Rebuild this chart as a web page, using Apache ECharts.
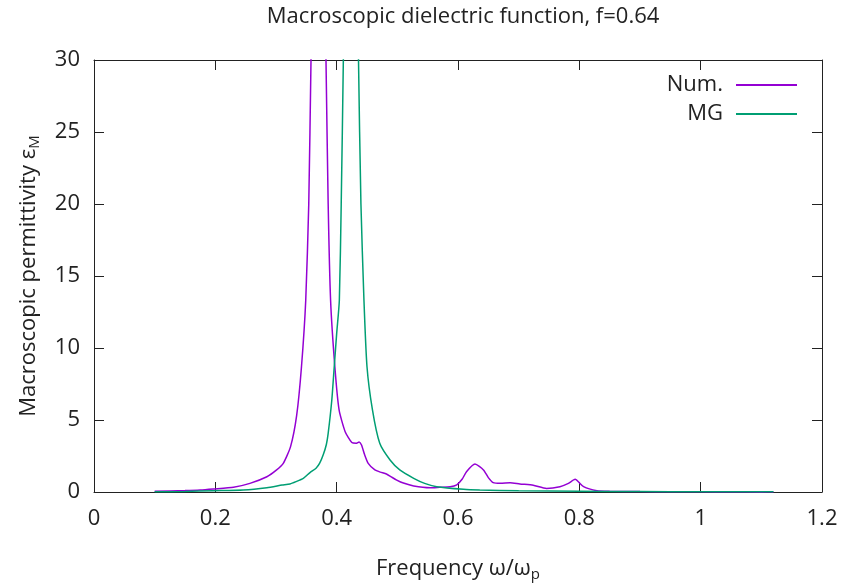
<!DOCTYPE html>
<html>
<head>
<meta charset="utf-8">
<script src="https://cdn.jsdelivr.net/npm/echarts@6/dist/echarts.min.js"></script>
<style>html,body{margin:0;padding:0;background:#fff}#c{width:842px;height:584px}</style>
</head>
<body>
<div id="c"></div>
<script>
// Numerical result (x = ω/ωp, y = εM)
const numX = [0.10,0.15,0.175,0.197,0.23,0.257,0.285,0.30,0.312,0.324,0.334,0.342,0.349,0.354,0.3577,0.363,0.370,0.377,0.3824,0.386,0.390,0.397,0.404,0.414,0.425,0.432,0.437,0.441,0.446,0.452,0.463,0.472,0.482,0.490,0.499,0.510,0.527,0.554,0.570,0.587,0.598,0.607,0.614,0.628,0.642,0.650,0.658,0.670,0.686,0.702,0.724,0.746,0.768,0.782,0.793,0.807,0.829,0.85,0.90,0.95,1.00,1.05,1.10,1.12];
const numY = [0.05,0.10,0.14,0.21,0.33,0.60,1.06,1.5,1.99,3.15,5.3,8.7,13.3,20,30,45,60,45,30,20,13.3,8.7,5.7,4.19,3.43,3.38,3.48,3.26,2.6,1.99,1.53,1.38,1.25,1.05,0.83,0.62,0.42,0.30,0.33,0.36,0.5,0.9,1.41,1.94,1.53,1.0,0.65,0.6,0.65,0.56,0.47,0.25,0.37,0.6,0.88,0.37,0.09,0.05,0.03,0.02,0.01,0.0,-0.01,0.0];
// Maxwell-Garnett
const mgX = [0.10,0.15,0.197,0.246,0.285,0.310,0.323,0.333,0.345,0.356,0.366,0.372,0.378,0.383,0.386,0.392,0.396,0.400,0.4044,0.4075,0.411,0.416,0.4235,0.431,0.436,0.440,0.445,0.450,0.459,0.471,0.488,0.504,0.527,0.545,0.565,0.609,0.636,0.70,0.80,0.90,1.00,1.12];
const mgY = [0.01,0.04,0.09,0.14,0.30,0.48,0.56,0.72,0.95,1.35,1.65,2.0,2.6,3.3,4.07,6.39,8.7,11.0,13.3,20,30,50,80,50,30,20,13.3,8.7,5.7,3.38,2.22,1.53,0.95,0.6,0.37,0.19,0.14,0.08,0.05,0.03,0.02,0.01];
const xTicks = [0,0.2,0.4,0.6,0.8,1,1.2];
const yTicks = [0,5,10,15,20,25,30];

const FONT = 'Open Sans';
const FS = 22;
const zip = (a,b)=>a.map((v,i)=>[v,b[i]]);
const chart = echarts.init(document.getElementById('c'), null, {renderer:'canvas'});
const mkLine = () => ({show:true, onZero:false, lineStyle:{color:'#222', width:1}});
const mkTick = () => ({show:true, inside:true, length:10, lineStyle:{color:'#222', width:1}});
const legendCommon = () => ({
  orient:'vertical', align:'right', right:45, itemWidth:61, itemHeight:2, icon:'rect', padding:0,
  textStyle:{fontFamily:FONT, fontSize:FS, color:'#222', lineHeight:24, padding:[0,8,0,0]}
});
const rich = {a:{fontFamily:FONT, fontSize:FS, color:'#222'}, s:{fontFamily:FONT, fontSize:15, color:'#222', padding:[12,0,0,0]}};
chart.setOption({
  animation:false,
  backgroundColor:'#fff',
  title:{text:'Macroscopic dielectric function, f=0.64', left:458, textAlign:'center', top:1,
    textStyle:{fontFamily:FONT, fontSize:FS, fontWeight:'normal', color:'#222'}},
  legend:[
    Object.assign(legendCommon(), {data:['Num.'], top:73}),
    Object.assign(legendCommon(), {data:['MG'], top:102})
  ],
  grid:{left:94, right:20, top:60, bottom:92, containLabel:false, outerBoundsMode:'none'},
  xAxis:[
    {type:'value', min:xTicks[0], max:xTicks[xTicks.length-1], interval:0.2, position:'bottom',
     axisLine:mkLine(), axisTick:mkTick(), splitLine:{show:false},
     axisLabel:{fontFamily:FONT, fontSize:FS, color:'#222', margin:16},
     name:'{a|Frequency ω/ω}{s|p}', nameLocation:'middle', nameGap:63,
     nameTextStyle:{fontFamily:FONT, fontSize:FS, color:'#222', rich}},
    {type:'value', min:xTicks[0], max:xTicks[xTicks.length-1], interval:0.2, position:'top',
     axisLine:mkLine(), axisTick:mkTick(), axisLabel:{show:false}, splitLine:{show:false}}
  ],
  yAxis:[
    {type:'value', min:yTicks[0], max:yTicks[yTicks.length-1], interval:5, position:'left',
     axisLine:mkLine(), axisTick:mkTick(), splitLine:{show:false},
     axisLabel:{fontFamily:FONT, fontSize:FS, color:'#222', margin:14},
     name:'{a|Macroscopic permittivity ε}{s|M}', nameLocation:'middle', nameGap:52, nameRotate:90,
     nameTextStyle:{fontFamily:FONT, fontSize:FS, color:'#222', rich}},
    {type:'value', min:yTicks[0], max:yTicks[yTicks.length-1], interval:5, position:'right',
     axisLine:mkLine(), axisTick:mkTick(), axisLabel:{show:false}, splitLine:{show:false}}
  ],
  series:[
    {name:'Num.', type:'line', data:zip(numX,numY), showSymbol:false, smooth:0.2,
     clip:true, lineStyle:{color:'#9400D3', width:1.5}, itemStyle:{color:'#9400D3'}},
    {name:'MG', type:'line', data:zip(mgX,mgY), showSymbol:false, smooth:0.2,
     clip:true, lineStyle:{color:'#009E73', width:1.5}, itemStyle:{color:'#009E73'}}
  ]
});
</script>
</body>
</html>
